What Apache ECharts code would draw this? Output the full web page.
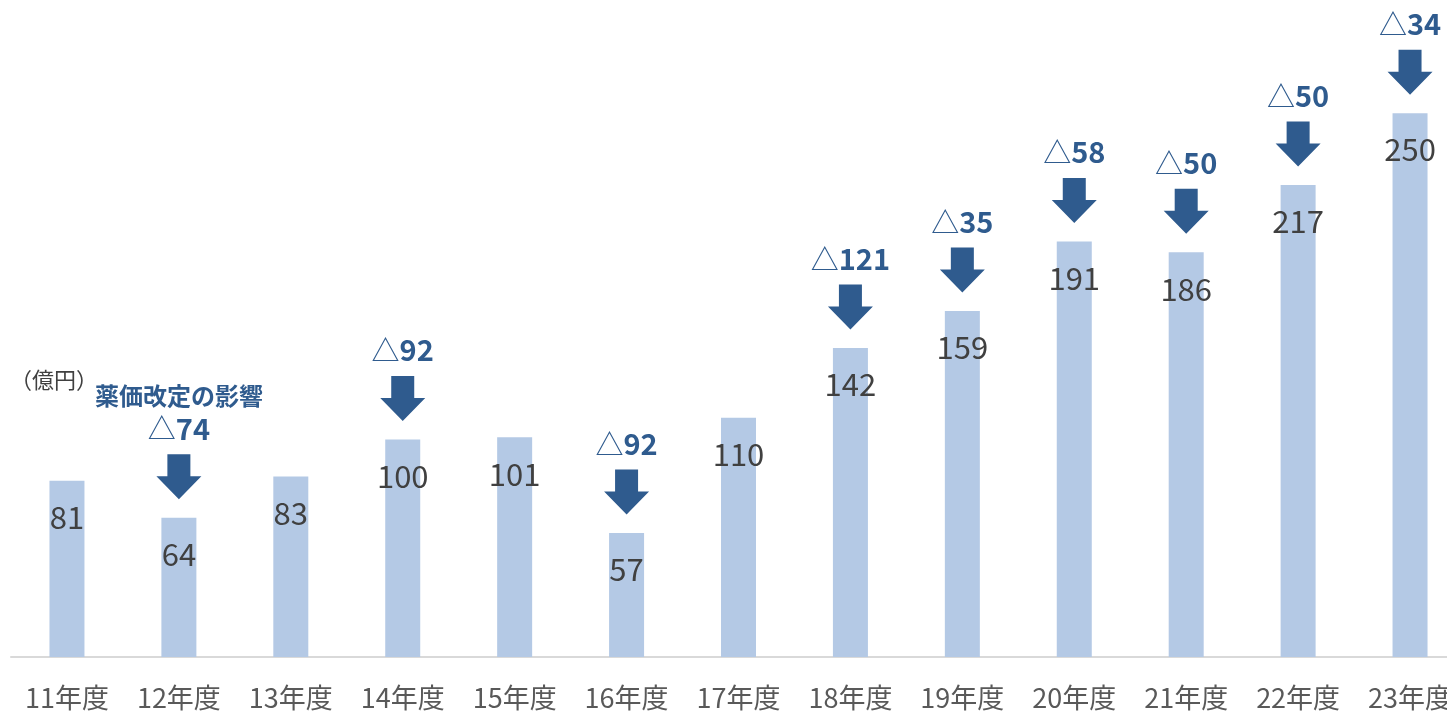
<!DOCTYPE html>
<html>
<head>
<meta charset="utf-8">
<script src="https://cdn.jsdelivr.net/npm/echarts@6/dist/echarts.min.js"></script>
<style>
  html, body { margin: 0; padding: 0; background: #fff; overflow: hidden; }
  #chart { width: 1480px; height: 713px; }
</style>
</head>
<body>
<div id="chart"></div>
<script>
const years = ['11年度', '12年度', '13年度', '14年度', '15年度', '16年度', '17年度',
  '18年度', '19年度', '20年度', '21年度', '22年度', '23年度'];
const sales = [81, 64, 83, 100, 101, 57, 110, 142, 159, 191, 186, 217, 250];
// 薬価改定の影響 (null = no revision that year)
const priceCut = [null, 74, null, 92, null, 92, null, 121, 35, 58, 50, 50, 34];

const font = '"Noto Sans CJK JP", "Noto Sans", sans-serif';
const blue = '#2F5B8E';

const arrowData = sales.map((v, i) => priceCut[i] == null ? null : {
  value: v,
  cut: priceCut[i],
  first: i === 1
});

const chart = echarts.init(document.getElementById('chart'));
chart.setOption({
  animation: false,
  textStyle: { fontFamily: font },
  grid: { left: 11, right: 14, top: 0, bottom: 56 },
  xAxis: {
    type: 'category',
    data: years,
    axisTick: { show: false },
    axisLine: { lineStyle: { color: '#D9D9D9', width: 2 } },
    axisLabel: { color: '#595959', fontSize: 27, margin: 27, fontFamily: font }
  },
  yAxis: { type: 'value', min: 0, max: 302, show: false, splitLine: { show: false } },
  graphic: [{
    type: 'text',
    left: 10, top: 369,
    style: { text: '（億円）', fill: '#404040', font: '22px ' + font }
  }],
  series: [{
    type: 'bar',
    data: sales,
    barWidth: 35,
    itemStyle: { color: '#B4C9E5' },
    label: {
      show: true,
      position: 'insideTop',
      distance: 21,
      color: '#404040',
      fontSize: 31,
      fontFamily: font
    }
  }, {
    type: 'scatter',
    data: arrowData,
    symbol: 'path://M11 0 L34 0 L34 22 L45 22 L22.5 45 L0 22 L11 22 Z',
    symbolSize: [45, 45],
    symbolOffset: [0, -41],
    itemStyle: { color: blue, opacity: 1 },
    z: 5,
    label: {
      show: true,
      position: 'top',
      distance: 11,
      formatter: (p) => (p.data.first ? '{a|薬価改定の影響}\n' : '') + '{t|△}{n|' + p.data.cut + '}',
      rich: {
        a: { color: blue, fontSize: 24, fontWeight: 'bold', fontFamily: font, lineHeight: 36 },
        t: { color: blue, fontSize: 28, fontWeight: 'normal', fontFamily: font },
        n: { color: blue, fontSize: 29, fontWeight: 'bold', fontFamily: font }
      }
    }
  }]
});
</script>
</body>
</html>
